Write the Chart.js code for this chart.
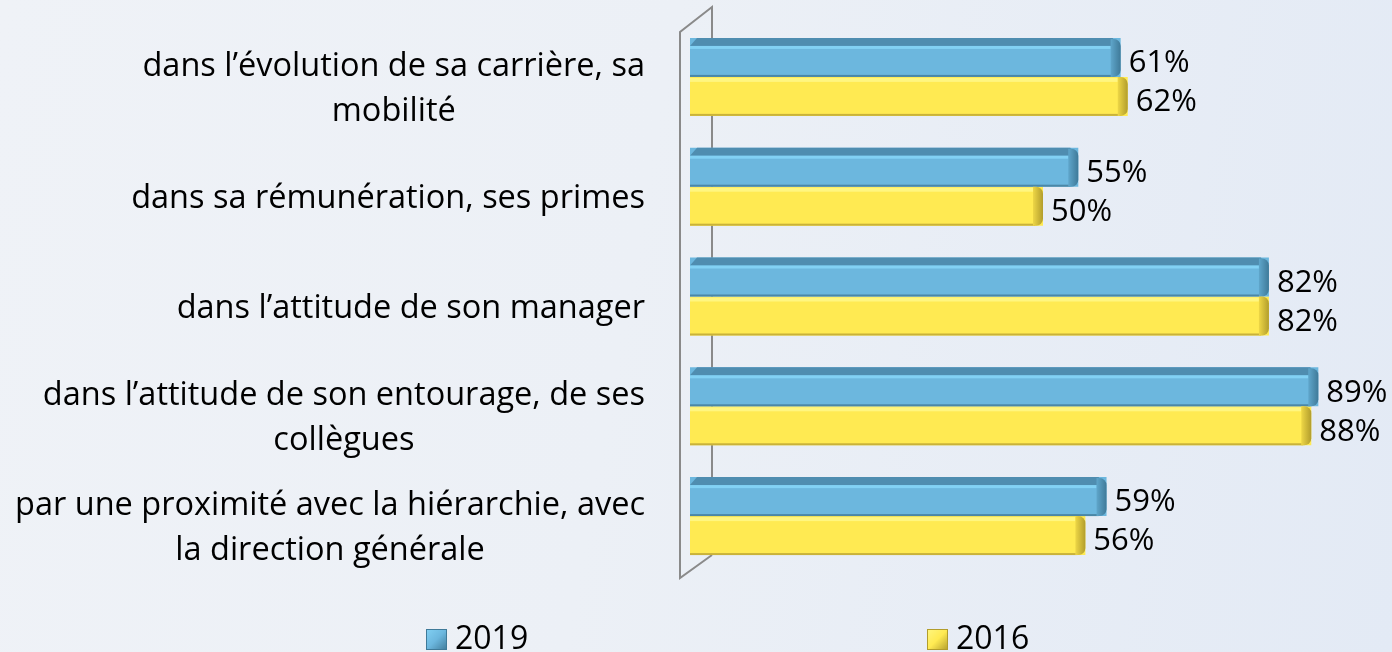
<!DOCTYPE html>
<html>
<head>
<meta charset="utf-8">
<script src="https://cdn.jsdelivr.net/npm/chart.js@4/dist/chart.umd.min.js"></script>
<style>
  html, body { margin: 0; padding: 0; overflow: hidden; }
  body {
    width: 1392px; height: 652px;
    background: linear-gradient(100deg, #eff2f7 0%, #ecf0f6 45%, #e3eaf5 100%);
  }
  #wrap { position: relative; width: 1396px; height: 652px; }
</style>
</head>
<body>
<div id="wrap"><canvas id="chart"></canvas></div>
<script>
// données
const categories = [
  ['dans l’évolution de sa carrière, sa', 'mobilité'],
  ['dans sa rémunération, ses primes'],
  ['dans l’attitude de son manager'],
  ['dans l’attitude de son entourage, de ses', 'collègues'],
  ['par une proximité avec la hiérarchie, avec', 'la direction générale']
];
const seriesNames = ['2019', '2016'];
const values2019 = [61, 55, 82, 89, 59];
const values2016 = [62, 50, 82, 88, 56];

const FONT = '"Open Sans", Lato, sans-serif';
const FS_CAT = 32.5;
const FS_VAL = 31;
const FS_LEG = 32;

// couleurs "3D" de chaque série
const palette = [
  { face: '#6cb7de', top: '#4f8db0', light: '#82d1f4', bottom: '#4b87a6', cap1: '#5fa6cb', cap2: '#3f7a99' },
  { face: '#ffea52', top: '#fff47e', light: '#fff680', bottom: '#c9b23a', cap1: '#eed746', cap2: '#b29d2c' }
];

// cadre gris (paroi 3D) derrière les barres
const framePlugin = {
  id: 'frame',
  beforeDatasetsDraw(chart) {
    const { ctx, chartArea: a } = chart;
    const fx = a.left - 10, bx = a.left + 22;
    ctx.save();
    ctx.strokeStyle = '#8a8a8a';
    ctx.lineWidth = 2;
    ctx.beginPath();
    ctx.moveTo(bx, a.bottom - 16);
    ctx.lineTo(bx, a.top - 15);
    ctx.lineTo(fx, a.top + 10);
    ctx.lineTo(fx, a.bottom + 7);
    ctx.lineTo(bx, a.bottom - 16);
    ctx.stroke();
    ctx.restore();
  }
};

// relief des barres + étiquettes de valeurs
const bar3dPlugin = {
  id: 'bar3d',
  afterDatasetsDraw(chart) {
    const { ctx } = chart;
    chart.data.datasets.forEach((ds, di) => {
      const meta = chart.getDatasetMeta(di);
      const c = palette[di];
      meta.data.forEach((bar, i) => {
        const p = bar.getProps(['x', 'y', 'base', 'height'], true);
        const top = p.y - p.height / 2, bot = p.y + p.height / 2;
        const left = p.base, right = p.x;
        ctx.save();
        if (di === 0) {
          // face supérieure
          ctx.fillStyle = c.top;
          ctx.beginPath();
          ctx.moveTo(left, top + 8);
          ctx.lineTo(left + 7, top);
          ctx.lineTo(right - 8, top);
          ctx.lineTo(right - 4, top + 8);
          ctx.closePath();
          ctx.fill();
          ctx.fillStyle = c.light;
          ctx.fillRect(left, top + 8, right - left - 10, 3);
        } else {
          ctx.fillStyle = c.light;
          ctx.fillRect(left, top + 1, right - left - 10, 4);
        }
        ctx.fillStyle = c.bottom;
        ctx.fillRect(left, bot - 2, right - left - 8, 2);
        // bout arrondi
        const g = ctx.createLinearGradient(right - 10, 0, right, 0);
        g.addColorStop(0, c.cap1);
        g.addColorStop(1, c.cap2);
        ctx.fillStyle = g;
        ctx.beginPath();
        ctx.roundRect(right - 10, top + (di === 0 ? 1 : 0), 10, p.height - (di === 0 ? 1 : 0), [0, 7, 7, 0]);
        ctx.fill();
        // valeur
        ctx.fillStyle = '#000';
        ctx.font = FS_VAL + 'px ' + FONT;
        ctx.textAlign = 'left';
        ctx.textBaseline = 'middle';
        ctx.fillText(ds.data[i] + '%', right + 8, p.y + 6);
        ctx.restore();
      });
    });
  }
};

// libellés de catégories (bloc aligné à droite, lignes centrées)
const labelsPlugin = {
  id: 'catLabels',
  afterDraw(chart) {
    const { ctx, chartArea: a } = chart;
    const yScale = chart.scales.y;
    const lh = 45;
    ctx.save();
    ctx.font = FS_CAT + 'px ' + FONT;
    ctx.fillStyle = '#000';
    ctx.textAlign = 'center';
    ctx.textBaseline = 'middle';
    categories.forEach((lines, i) => {
      const w = Math.max(...lines.map(t => ctx.measureText(t).width));
      const cx = a.left - 45 - w / 2;
      const y0 = yScale.getPixelForValue(i) + 12 - (lines.length - 1) * lh / 2;
      lines.forEach((t, k) => ctx.fillText(t, cx, y0 + k * lh));
    });
    // légende
    ctx.font = FS_LEG + 'px ' + FONT;
    const items = [{ x: 426, c: palette[0] }, { x: 927, c: palette[1] }];
    items.forEach((it, k) => {
      const y = 629, s = 21;
      const g = ctx.createLinearGradient(it.x, y, it.x + s, y + s);
      g.addColorStop(0, it.c.light);
      g.addColorStop(0.5, it.c.face);
      g.addColorStop(1, it.c.cap2);
      ctx.fillStyle = g;
      ctx.fillRect(it.x, y, s, s);
      ctx.strokeStyle = it.c.cap2;
      ctx.lineWidth = 1;
      ctx.strokeRect(it.x + 0.5, y + 0.5, s - 1, s - 1);
      ctx.fillStyle = '#000';
      ctx.textAlign = 'left';
      ctx.textBaseline = 'alphabetic';
      ctx.fillText(seriesNames[k], it.x + 29, 649);
    });
    ctx.restore();
  }
};

new Chart(document.getElementById('chart'), {
  type: 'bar',
  data: {
    labels: categories,
    datasets: [
      { label: seriesNames[0], data: values2019, backgroundColor: palette[0].face, borderWidth: 0 },
      { label: seriesNames[1], data: values2016, backgroundColor: palette[1].face, borderWidth: 0 }
    ]
  },
  options: {
    indexAxis: 'y',
    responsive: true,
    maintainAspectRatio: false,
    animation: false,
    categoryPercentage: 0.71,
    barPercentage: 1,
    layout: { padding: { left: 690, right: 0, top: 22, bottom: 81 } },
    scales: {
      x: { display: false, min: 0, max: 100 },
      y: { display: false }
    },
    plugins: {
      legend: { display: false },
      tooltip: { enabled: false }
    }
  },
  plugins: [framePlugin, bar3dPlugin, labelsPlugin]
});
</script>
</body>
</html>
